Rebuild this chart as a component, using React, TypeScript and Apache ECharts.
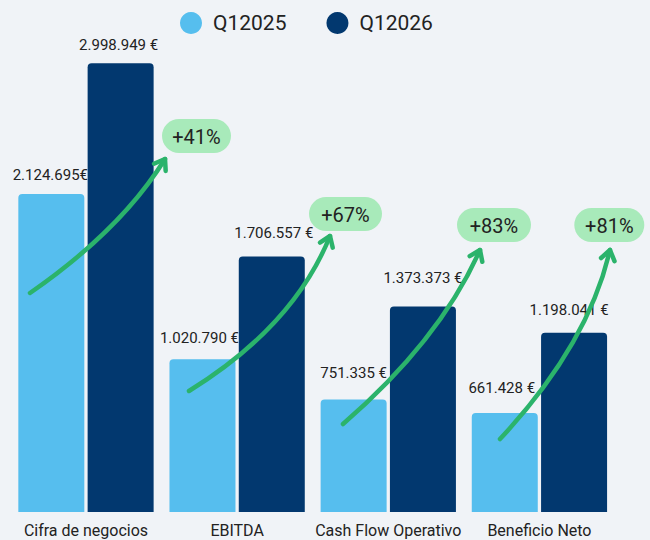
import React, { useEffect, useRef } from "react";
import * as echarts from "echarts";

const categories = ["Cifra de negocios", "EBITDA", "Cash Flow Operativo", "Beneficio Neto"];
const seriesNames = ["Q12025", "Q12026"];
const values2025 = [2124695, 1020790, 751335, 661428];
const values2026 = [2998949, 1706557, 1373373, 1198041];
const labels2025 = ["2.124.695€", "1.020.790 €", "751.335 €", "661.428 €"];
const labels2026 = ["2.998.949 €", "1.706.557 €", "1.373.373 €", "1.198.041 €"];
const growthLabels = values2026.map((v, i) => `+${Math.round((v / values2025[i] - 1) * 100)}%`);

// layout tweaks (label offset x, label distance)
const label2025Layout = [[-1, 11.5], [-3, 14], [0, 19], [-3, 17.5]];
const label2026Layout = [[-2, 11], [2, 16.5], [0, 21], [-5, 15]];

// decorative growth arrows (pixel positions): start, control, tip, pill centre x, y, width
const arrowLayout = [
  { p0: [30, 293], c: [121, 230], p2: [165, 159], pill: [196.5, 136, 69] },
  { p0: [189, 391], c: [294, 326], p2: [330, 236], pill: [345.5, 214, 73] },
  { p0: [343, 424], c: [440, 340], p2: [480, 250], pill: [494, 225, 74] },
  { p0: [500, 439], c: [588, 345], p2: [610, 250], pill: [609.3, 225, 70] },
];

const LIGHT = "#56BEEE";
const DARK = "#02386F";
const GREEN = "#2BB36B";
const PILL = "#A8EABA";
const TEXT = "#222222";
const BG = "#F0F3F7";
const FONT = "Roboto, 'Noto Sans', sans-serif";

function buildGraphics() {
  const els: any[] = [];
  arrowLayout.forEach((a, i) => {
    const [x0, y0] = a.p0;
    const [cx, cy] = a.c;
    const [x2, y2] = a.p2;
    els.push({
      type: "bezierCurve",
      z: 100,
      shape: { x1: x0, y1: y0, cpx1: cx, cpy1: cy, x2, y2 },
      style: { stroke: GREEN, lineWidth: 4.5, fill: null, lineCap: "round" },
    });
    let dx = x2 - cx;
    let dy = y2 - cy;
    const len = Math.hypot(dx, dy);
    dx /= len;
    dy /= len;
    const bx = -dx;
    const by = -dy;
    const ang = (35 * Math.PI) / 180;
    const L = 12;
    const rot = (s: number) => [
      x2 + L * (bx * Math.cos(s * ang) - by * Math.sin(s * ang)),
      y2 + L * (bx * Math.sin(s * ang) + by * Math.cos(s * ang)),
    ];
    els.push({
      type: "polyline",
      z: 100,
      shape: { points: [rot(1), [x2, y2], rot(-1)] },
      style: { stroke: GREEN, lineWidth: 4.5, fill: null, lineCap: "round", lineJoin: "round" },
    });
    const [px, py, pw] = a.pill;
    const ph = 34;
    els.push({
      type: "rect",
      z: 101,
      shape: { x: px - pw / 2, y: py - ph / 2, width: pw, height: ph, r: ph / 2 },
      style: { fill: PILL },
    });
    els.push({
      type: "text",
      z: 102,
      x: px,
      y: py + 1,
      style: {
        text: growthLabels[i],
        fill: TEXT,
        font: `20px ${FONT}`,
        align: "center",
        verticalAlign: "middle",
      },
    });
  });
  return els;
}

export default function App() {
  const ref = useRef<HTMLDivElement>(null);
  useEffect(() => {
    document.body.style.margin = "0";
    document.body.style.background = BG;
    if (!ref.current) return;
    const chart = echarts.init(ref.current, null, { renderer: "svg" });
    const mkData = (vals: number[], labels: string[], layout: number[][]) =>
      vals.map((v, i) => ({
        value: v,
        label: {
          formatter: labels[i],
          offset: [layout[i][0], 0],
          distance: layout[i][1],
        },
      }));
    chart.setOption({
      animation: false,
      backgroundColor: BG,
      legend: {
        left: 175,
        top: 7,
        icon: "circle",
        itemWidth: 22,
        itemHeight: 22,
        itemGap: 40,
        data: seriesNames,
        textStyle: { fontFamily: FONT, fontSize: 21, color: TEXT, padding: [0, 0, 0, 6] },
      },
      grid: { left: 10.4, right: 35, top: 63, bottom: 28, containLabel: false },
      xAxis: {
        type: "category",
        data: categories,
        axisLine: { show: false },
        axisTick: { show: false },
        axisLabel: { interval: 0, fontFamily: FONT, fontSize: 16, color: TEXT, margin: 10 },
      },
      yAxis: {
        type: "value",
        min: 0,
        max: 3000000,
        show: false,
        splitLine: { show: false },
      },
      series: [
        {
          name: seriesNames[0],
          type: "bar",
          barWidth: 66,
          barGap: "5%",
          itemStyle: { color: LIGHT, borderRadius: [4, 4, 0, 0] },
          label: { show: true, position: "top", fontFamily: FONT, fontSize: 15, color: TEXT },
          data: mkData(values2025, labels2025, label2025Layout),
        },
        {
          name: seriesNames[1],
          type: "bar",
          barWidth: 66,
          barGap: "5%",
          itemStyle: { color: DARK, borderRadius: [4, 4, 0, 0] },
          label: { show: true, position: "top", fontFamily: FONT, fontSize: 15, color: TEXT },
          data: mkData(values2026, labels2026, label2026Layout),
        },
      ],
      graphic: buildGraphics(),
    });
    return () => chart.dispose();
  }, []);
  return <div ref={ref} style={{ width: 650, height: 540 }} />;
}
